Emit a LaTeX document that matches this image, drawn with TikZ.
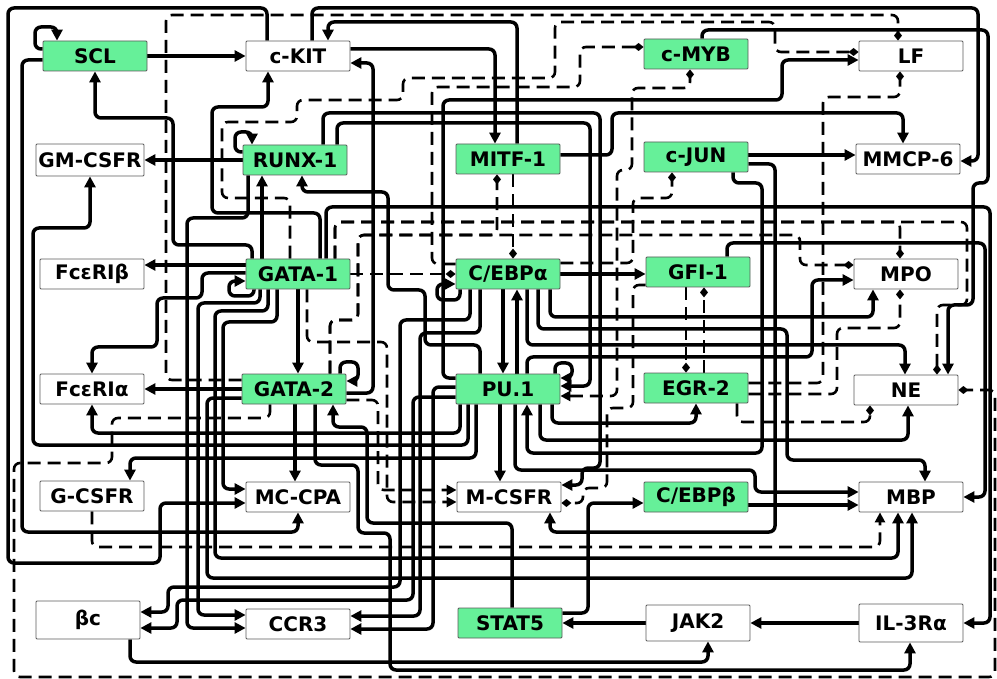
\documentclass[tikz,border=0pt]{standalone}
\usepackage{fontspec}
\setsansfont{DejaVu Sans}
\usetikzlibrary{arrows.meta}
\pgfdeclarelayer{bg}
\pgfsetlayers{bg,main}
\definecolor{gr}{RGB}{102,240,153}
\definecolor{bd}{RGB}{90,90,90}
\tikzset{
 box/.style={draw=bd, line width=0.8pt, minimum width=104pt, minimum height=30pt, inner sep=1pt, fill=white, rounded corners=1pt, font=\sffamily\bfseries\fontsize{20}{23}\selectfont},
 gbox/.style={box, fill=gr},
 ed/.style={line width=3.5pt, rounded corners=6pt, -{Triangle[length=11pt,width=11pt]}},
 dd/.style={line width=2.6pt, dash pattern=on 13pt off 7pt, rounded corners=6pt, -{Diamond[length=10pt,width=8pt]}},
 da/.style={line width=2.6pt, dash pattern=on 13pt off 7pt, rounded corners=6pt, -{Triangle[length=10pt,width=10pt]}},
 dm/.style={line width=2.6pt, dash pattern=on 13pt off 7pt, rounded corners=6pt, {Triangle[length=10pt,width=10pt]}-{Diamond[length=10pt,width=8pt]}},
}
\begin{document}
\begin{tikzpicture}[x=1pt,y=-1pt]
\useasboundingbox (0,0) rectangle (997,679);
% nodes
\node[gbox] (scl) at (95,56) {SCL};
\node[box] (ckit) at (298,56) {c-KIT};
\node[gbox] (cmyb) at (696,54) {c-MYB};
\node[box] (lf) at (911,56) {LF};
\node[box, minimum width=108pt, minimum height=32pt] (gmcsfr) at (90,160) {GM-CSFR};
\node[gbox] (runx) at (295,160) {RUNX-1};
\node[gbox] (mitf) at (508,159) {MITF-1};
\node[gbox] (cjun) at (696,157) {c-JUN};
\node[box] (mmcp) at (908,159) {MMCP-6};
\node[box] (fcrib) at (92,274) {FcεRIβ};
\node[gbox] (gata1) at (298,274) {GATA-1};
\node[gbox] (cebpa) at (508,274) {C/EBPα};
\node[gbox] (gfi) at (698,272) {GFI-1};
\node[box] (mpo) at (906,274) {MPO};
\node[box] (fcria) at (92,389) {FcεRIα};
\node[gbox] (gata2) at (294,389) {GATA-2};
\node[gbox] (pu1) at (508,389) {PU.1};
\node[gbox] (egr) at (696,388) {EGR-2};
\node[box] (ne) at (906,390) {NE};
\node[box] (gcsfr) at (92,496) {G-CSFR};
\node[box] (mccpa) at (298,497) {MC-CPA};
\node[box] (mcsfr) at (509,497) {M-CSFR};
\node[gbox] (cebpb) at (696,497) {C/EBPβ};
\node[box] (mbp) at (911,497) {MBP};
\node[box, minimum height=38pt] (bc) at (88,620) {βc};
\node[box] (ccr3) at (298,624) {CCR3};
\node[gbox] (stat5) at (510,623) {STAT5};
\node[box, minimum height=36pt] (jak2) at (698,623) {JAK2};
\node[box, minimum height=38pt] (il3) at (911,623) {IL-3Rα};

\begin{pgfonlayer}{bg}
% SCL
\draw[ed] (scl.west |- 0,49) -| (35,27) -| (scl.north -| 57,0);
\draw[ed] (scl.east) -- (ckit.west);
\draw[ed] (scl.west |- 0,60) -| (22,532) -| (mccpa.south);
% c-KIT
\draw[ed] (ckit.north -| 267,0) |- (8,8) |- (160,563) |- (mccpa.west |- 0,503);
\draw[ed] (ckit.north -| 312,0) |- (978,8) |- (mmcp.east |- 0,161);
\draw[ed] (mitf.north -| 517,0) |- (420,22) -| (ckit.north -| 328,0);
\draw[ed] (ckit.east |- 0,49) -| (mitf.north -| 495,0);
\draw[ed] (gata2.east |- 0,393) -| (373,200) |- (ckit.east |- 0,63);
% GATA-1
\draw[ed] (gata1.north -| 320,0) |- (212,213) |- (268,107) -- (ckit.south -| 268,0);
\draw[ed] (gata1.north -| 326,0) |- (990,207) |- (il3.east);
\draw[ed] (gata1.north -| 252,0) |- (173,245) |- (95,118) -- (scl.south);
\draw[ed] (gata1.north -| 262,0) -- (runx.south -| 262,0);
\draw[ed] (gata1.west |- 0,265) -- (fcrib.east |- 0,265);
\draw[ed] (gata1.west |- 0,273) -| (202,298) -| (157,347) -| (fcria.north);
\draw[ed] (gata1.south -| 254,0) |- (229,296) |- (gata1.west |- 0,281);
\draw[ed] (gata1.south -| 260,0) |- (198,303) |- (ccr3.west |- 0,615);
\draw[ed] (gata1.south -| 268,0) |- (215,311) |- (600,558) -| (mbp.south -| 898,0);
\draw[ed] (gata1.south -| 277,0) |- (223,322) |- (mccpa.west |- 0,489);
\draw[ed] (gata1.south) -- (gata1.south |- gata2.north);
% RUNX-1
\draw[ed] (runx.west) -- (gmcsfr.east |- runx.west);
\draw[ed] (runx.west |- 0,152) -| (235,132) -| (runx.north -| 252,0);
\draw[ed] (runx.north -| 337,0) |- (590,123) |- (pu1.east |- 0,386);
\draw[ed] (runx.north -| 323,0) |- (600,113) |- (582,468) |- (mcsfr.east |- 0,485);
\draw[ed] (runx.south -| 248,0) |- (187,218) |- (ccr3.west |- 0,628);
\draw[ed] (pu1.north -| 480,0) |- (425,345) |- (388,290) |- (302,192) -- (runx.south -| 302,0);
% GATA-2
\draw[ed] (gata2.north -| 340,0) |- (358,362) |- (gata2.east |- 0,381);
\draw[ed] (gata2.west) -- (fcria.east |- gata2.west);
\draw[ed] (gata2.south -| 295,0) -- (mccpa.north -| 295,0);
\draw[ed] (gata2.south -| 315,0) |- (358,465) |- (390,533) |- (910,670) -- (il3.south -| 910,0);
\draw[ed] (stat5.north -| 512,0) |- (367,523) |- (333,427) -- (gata2.south -| 333,0);
\draw[ed] (gata2.west |- 0,398) -| (207,578) -| (mbp.south -| 912,0);
% dashed
\draw[dd] (gata1.east) -- (cebpa.west);
\draw[dd] (gata2.west |- 0,380) -| (166,15) -| (lf.north -| 898,0);
\draw[dd] (gata1.north -| 290,0) |- (222,198) |- (297,122) |- (403,100) |- (555,78) |- (775,22) |- (lf.west |- 0,52);
\draw[dd] (cebpa.west |- 0,264) -| (432,87) -| (580,47) -- (cmyb.west |- 0,47);
\draw[dd] (mitf.south -| 513,0) -- (cebpa.north -| 513,0);
\draw[dd] (gata2.north -| 330,0) |- (358,320) |- (497,235) -- (mitf.south -| 497,0);
\draw[dd] (gata2.north -| 330,0) |- (358,320) |- (800,235) |- (mpo.west |- 0,265);
\draw[dd] (cebpa.east |- 0,263) -| (633,198) -| (cjun.south -| 672,0);
\draw[dd] (gfi.west |- 0,285) -| (633,408) -| (607,488) -| (583,503) -- (mcsfr.east |- 0,503);
\draw[dd] (gata1.north -| 335,0) |- (967,222) |- (937,305) -- (ne.north -| 937,0);
\draw[dd] (gata1.north -| 335,0) |- (900,222) -- (mpo.north -| 900,0);
\draw[da] (gata1.south -| 307,0) |- (387,342) |- (mcsfr.west |- 0,502);
\draw[da] (gata2.east |- 0,400) -| (378,490) -- (mcsfr.west |- 0,490);
\draw[dd] (gata2.south -| 270,0) |- (112,418) |- (14,463) |- (995,677) |- (ne.east);
\draw[dd] (egr.east |- 0,383) -| (823,97) -| (lf.south -| 900,0);
\draw[dd] (egr.east |- 0,394) -| (837,328) -| (mpo.south -| 900,0);
\draw[dd] (egr.south -| 737,0) |- (870,422) -- (ne.south -| 870,0);
\draw[dd] (egr.north -| 704,0) -- (gfi.south -| 704,0);
\draw[dd] (gfi.south -| 686,0) -- (egr.north -| 686,0);
\draw[dm] (pu1.east |- 0,396) -| (617,170) -| (632,88) -| (cmyb.south -| 690,0);
\draw[da] (gcsfr.south) |- (880,547) -- (mbp.south -| 880,0);
% C/EBPa
\draw[ed] (cebpa.east) -- (gfi.west |- cebpa.east);
\draw[ed] (cebpa.south -| 460,0) |- (437,300) |- (cebpa.west |- 0,284);
\draw[ed] (cebpa.south -| 503,0) -- (pu1.north -| 503,0);
\draw[ed] (pu1.north -| 517,0) -- (cebpa.south -| 517,0);
\draw[ed] (cebpa.south -| 527,0) |- (700,345) -| (ne.north -| 905,0);
\draw[ed] (cebpa.south -| 538,0) |- (700,329) -| (787,460) -| (mbp.north -| 925,0);
\draw[ed] (cebpa.south -| 550,0) |- (700,317) -| (mpo.south -| 873,0);
\draw[ed] (cebpa.south -| 470,0) |- (400,320) |- (168,587) |- (bc.east |- 0,612);
\draw[ed] (cebpa.south -| 480,0) |- (420,333) |- (ccr3.east |- 0,616);
% PU.1
\draw[ed] (pu1.north -| 527,0) |- (700,357) -| (812,280) -- (mpo.west |- 0,280);
\draw[ed] (pu1.north -| 555,0) |- (572,363) |- (pu1.east |- 0,378);
\draw[ed] (pu1.west |- 0,397) -| (413,600) -| (177,628) -- (bc.east |- 0,628);
\draw[ed] (pu1.west |- 0,387) -| (433,629) -- (ccr3.east |- 0,629);
\draw[ed] (pu1.west |- 0,378) -| (443,100) -| (782,60) -- (lf.west |- 0,60);
\draw[ed] (pu1.south -| 460,0) |- (92,433) -- (fcria.south);
\draw[ed] (pu1.south -| 468,0) |- (33,445) |- (90,228) -- (gmcsfr.south);
\draw[ed] (pu1.south -| 476,0) |- (130,458) -- (gcsfr.north -| 130,0);
\draw[ed] (pu1.south -| 500,0) -- (mcsfr.north -| 500,0);
\draw[ed] (pu1.south -| 515,0) |- (755,470) |- (mbp.west |- 0,492);
\draw[ed] (pu1.south -| 540,0) |- (800,440) -| (ne.south -| 908,0);
\draw[ed] (pu1.south -| 552,0) |- (650,423) -| (egr.south);
% others
\draw[ed] (cjun.south -| 733,0) |- (762,183) |- (527,453) -- (pu1.south -| 527,0);
\draw[ed] (mitf.east |- 0,155) -| (612,113) -| (mmcp.north -| 903,0);
\draw[ed] (cmyb.north -| 702,0) |- (988,30) |- (973,183) |- (948,305) -- (ne.north -| 948,0);
\draw[ed] (cjun.east |- 0,155) -- (mmcp.west |- 0,155);
\draw[ed] (cjun.east |- 0,164) -| (775,532) -| (mcsfr.south -| 550,0);
\draw[ed] (gfi.north -| 727,0) |- (985,243) |- (mbp.east);
\draw[ed] (stat5.east |- 0,613) -| (588,503) -- (cebpb.west |- 0,503);
\draw[ed] (cebpb.east |- 0,505) -- (mbp.west |- 0,505);
\draw[ed] (jak2.west) -- (stat5.east |- jak2.west);
\draw[ed] (il3.west) -- (jak2.east |- il3.west);
\draw[ed] (bc.south -| 130,0) |- (708,662) -- (jak2.south -| 708,0);
\end{pgfonlayer}
\end{tikzpicture}
\end{document}
